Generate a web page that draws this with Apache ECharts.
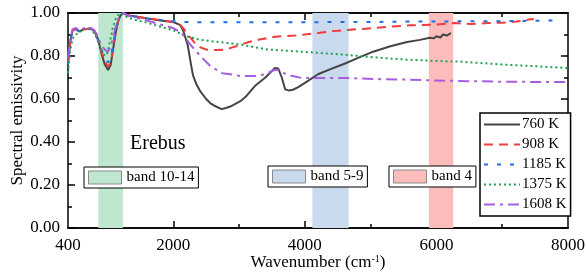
<!DOCTYPE html>
<html><head><meta charset="utf-8">
<script src="https://cdn.jsdelivr.net/npm/echarts@6/dist/echarts.min.js"></script>
<style>html,body{margin:0;padding:0;background:#fff}#c{width:587px;height:278px}</style>
</head><body><div id="c"></div>
<script>
// ---- data (wavenumber cm-1, spectral emissivity) ----
const wn760  = [400,430,470,520,573,650,750,800,840,880,910,960,1010,1050,1080,1120,1160,1200,1240,1300,1400,1600,1800,2000,2100,2150,2220,2270,2300,2350,2412,2500,2565,2650,2735,2800,2867,2950,3020,3100,3240,3400,3545,3595,3650,3700,3750,3820,3900,4025,4200,4400,4612,4800,5038,5300,5555,5750,5900,5960,6000,6060,6100,6160,6220];
const em760  = [0.76,0.86,0.92,0.925,0.915,0.925,0.928,0.915,0.89,0.85,0.81,0.76,0.735,0.76,0.82,0.9,0.96,0.99,1.0,0.99,0.985,0.975,0.965,0.958,0.945,0.92,0.85,0.76,0.71,0.67,0.635,0.60,0.58,0.565,0.553,0.558,0.565,0.578,0.59,0.61,0.66,0.70,0.744,0.742,0.70,0.645,0.64,0.643,0.655,0.68,0.715,0.74,0.765,0.79,0.82,0.845,0.865,0.875,0.885,0.882,0.892,0.886,0.90,0.895,0.907];

const wn908  = [400,430,470,520,573,650,750,800,840,880,910,960,1010,1050,1080,1120,1160,1200,1240,1300,1400,1600,1800,2000,2100,2150,2220,2330,2412,2500,2650,2790,2900,3000,3150,3292,3550,3853,4000,4202,4506,4916,5245,5599,5948,6282,6536,6783,7000,7219,7447,7480];
const em908  = [0.77,0.86,0.92,0.925,0.915,0.925,0.928,0.915,0.89,0.855,0.82,0.775,0.75,0.77,0.83,0.9,0.96,0.99,1.0,0.99,0.985,0.975,0.967,0.958,0.948,0.93,0.90,0.86,0.84,0.83,0.828,0.83,0.84,0.85,0.865,0.876,0.89,0.895,0.90,0.907,0.918,0.927,0.935,0.943,0.945,0.953,0.949,0.953,0.955,0.96,0.972,0.97];

const wn1185 = [400,430,470,520,573,650,750,800,840,880,910,960,1010,1050,1080,1120,1160,1200,1240,1300,1400,1600,1800,2000,2200,2500,3000,3500,4000,4500,5000,5500,6000,6500,7000,7500,7850];
const em1185 = [0.76,0.86,0.92,0.925,0.915,0.925,0.928,0.915,0.89,0.86,0.83,0.79,0.77,0.79,0.84,0.91,0.965,0.99,1.0,0.99,0.985,0.975,0.968,0.962,0.958,0.957,0.957,0.957,0.957,0.958,0.958,0.96,0.96,0.962,0.962,0.964,0.965];

const wn1375 = [400,430,470,520,573,650,750,800,840,880,920,960,1000,1040,1080,1120,1160,1200,1250,1300,1400,1600,1880,2000,2180,2390,2690,3020,3440,3950,4612,5038,5555,6160,6300,7020,7520,8000];
const em1375 = [0.72,0.82,0.88,0.90,0.91,0.925,0.925,0.905,0.88,0.85,0.82,0.80,0.815,0.87,0.93,0.97,0.99,1.0,0.99,0.98,0.97,0.955,0.93,0.92,0.893,0.876,0.865,0.853,0.83,0.82,0.806,0.794,0.783,0.775,0.775,0.76,0.752,0.744];

const wn1608 = [400,430,470,520,573,650,750,800,840,880,920,960,1000,1040,1080,1120,1160,1200,1240,1300,1400,1600,1880,2000,2127,2260,2412,2564,2746,2913,3020,3240,3400,3545,3600,3720,3950,4612,5038,5555,6160,6700,7000,8000];
const em1608 = [0.79,0.87,0.925,0.93,0.92,0.93,0.93,0.92,0.9,0.87,0.845,0.83,0.82,0.835,0.88,0.93,0.97,0.99,1.0,0.99,0.98,0.965,0.94,0.93,0.907,0.853,0.80,0.753,0.72,0.713,0.707,0.707,0.715,0.736,0.735,0.713,0.698,0.698,0.693,0.69,0.685,0.682,0.68,0.679];

const seriesNames = ['760 K','908 K','1185 K','1375 K','1608 K'];
const bandNames = ['band 10-14','band 5-9','band 4'];
const bandRanges = [[860,1235],[4115,4665],[5885,6255]];
const xLabelValues = [400,2000,4000,6000,8000];
const xMajorTicks = [2000,4000,6000];
const xMinorTicks = [1200,3000,5000,7000];

const pair = (xs, ys) => xs.map((x,i)=>[x, ys[i]]);
const FONT = 'Liberation Serif';
const colors = ['#454545','#f23b3b','#1d6fe3','#21a052','#a65ee0'];
const lineTypes = ['solid',[9,6],[4,9],[2,3],[11,5,3,5]];
const bandColors = ['#bfe7d0','#c9daef','#fcbcbc'];
const data = [pair(wn760,em760),pair(wn908,em908),pair(wn1185,em1185),pair(wn1375,em1375),pair(wn1608,em1608)];

const chart = echarts.init(document.getElementById('c'), null, {renderer:'canvas'});
const xBase = {type:'value', min:400, max:8000, splitLine:{show:false},
  axisLine:{show:true, lineStyle:{color:'#000', width:1.5}}};
const series = [];
bandNames.forEach((n,i)=>{
  series.push({name:n, type:'line', data:[], xAxisIndex:0, yAxisIndex:0, z:1,
    itemStyle:{color:bandColors[i]},
    markArea:{silent:true, itemStyle:{color:bandColors[i], opacity:1},
      data:[[{xAxis:bandRanges[i][0]},{xAxis:bandRanges[i][1]}]]}});
});
seriesNames.forEach((n,i)=>{
  series.push({name:n, type:'line', data:data[i], showSymbol:false, symbol:'none', z:3,
    xAxisIndex:0, yAxisIndex:0,
    itemStyle:{color:colors[i]},
    lineStyle:{color:colors[i], width:2, type:lineTypes[i]}});
});
const bandLegendPos = [[84,167],[268,166],[389,166]];
const legends = [{
  orient:'vertical', left:480, top:113, padding:[4,4,4,3], itemGap:5,
  itemWidth:36, itemHeight:14,
  itemStyle:{opacity:0, color:'rgba(0,0,0,0)', borderColor:'rgba(0,0,0,0)', borderWidth:0},
  borderColor:'#000', borderWidth:1.5, backgroundColor:'#fff',
  textStyle:{fontFamily:FONT, fontSize:15, color:'#000', padding:[0,0,0,-3]},
  data: seriesNames
}];
bandNames.forEach((n,i)=>{
  legends.push({left:bandLegendPos[i][0], top:bandLegendPos[i][1], padding:[3,4,3,4],
    itemWidth:33, itemHeight:13, borderColor:'#000', borderWidth:1, backgroundColor:'#fff',
    textStyle:{fontFamily:FONT, fontSize:15, color:'#000'},
    data:[{name:n, icon:'rect', itemStyle:{color:bandColors[i], borderColor:'#8a8a8a', borderWidth:1}}]});
});
chart.setOption({
  animation:false,
  grid:{left:68, right:19, top:13, bottom:50, containLabel:false, outerBoundsMode:'none'},
  title:{text:'Erebus', left:125, top:129, textStyle:{fontFamily:FONT, fontSize:20, fontWeight:'normal', color:'#000'}},
  legend: legends,
  xAxis:[
    Object.assign({}, xBase, {position:'bottom',
      name:'Wavenumber (cm{sup|-1})', nameLocation:'middle', nameGap:26, nameMoveOverlap:false,
      nameTextStyle:{fontFamily:FONT, fontSize:17, color:'#000', rich:{sup:{fontFamily:FONT, fontSize:10, verticalAlign:'top', padding:[0,0,8,0]}}},
      axisLabel:{customValues:xLabelValues, formatter:v=>String(v), fontFamily:FONT, fontSize:17, color:'#000', margin:9},
      axisTick:{customValues:xMajorTicks, inside:true, length:7, lineStyle:{color:'#000', width:1.5}}}),
    Object.assign({}, xBase, {position:'bottom', axisLabel:{show:false},
      axisTick:{customValues:xMinorTicks, inside:true, length:4, lineStyle:{color:'#000', width:1.5}}}),
    Object.assign({}, xBase, {position:'top', axisLabel:{show:false},
      axisTick:{customValues:xMajorTicks, inside:true, length:7, lineStyle:{color:'#000', width:1.5}}}),
    Object.assign({}, xBase, {position:'top', axisLabel:{show:false},
      axisTick:{customValues:xMinorTicks, inside:true, length:4, lineStyle:{color:'#000', width:1.5}}})
  ],
  yAxis:[
    {type:'value', min:0, max:1, interval:0.2, position:'left', splitLine:{show:false},
     name:'Spectral emissivity', nameLocation:'middle', nameGap:42, nameMoveOverlap:false,
     nameTextStyle:{fontFamily:FONT, fontSize:17, color:'#000'},
     axisLine:{show:true, lineStyle:{color:'#000', width:1.5}},
     axisLabel:{formatter:v=>v.toFixed(2), fontFamily:FONT, fontSize:17, color:'#000', margin:8},
     axisTick:{inside:true, length:7, lineStyle:{color:'#000', width:1.5}},
     minorTick:{show:true, splitNumber:2, length:4, lineStyle:{color:'#000', width:1.5}}},
    {type:'value', min:0, max:1, interval:0.2, position:'right', splitLine:{show:false},
     axisLine:{show:true, lineStyle:{color:'#000', width:1.5}},
     axisLabel:{show:false},
     axisTick:{inside:true, length:7, lineStyle:{color:'#000', width:1.5}},
     minorTick:{show:true, splitNumber:2, length:4, lineStyle:{color:'#000', width:1.5}}}
  ],
  series: series
});
</script></body></html>
